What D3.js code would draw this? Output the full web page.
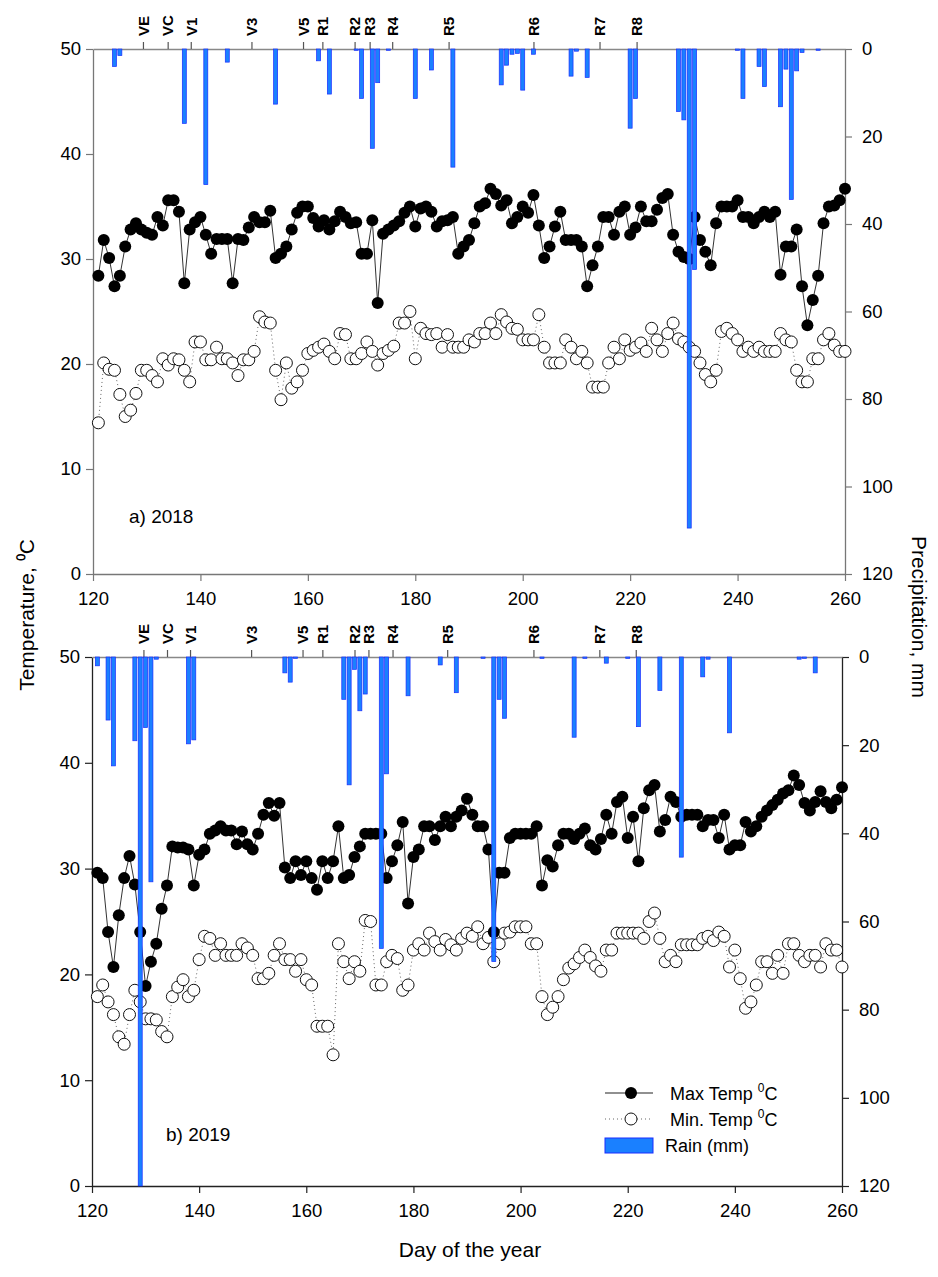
<!DOCTYPE html>
<html>
<head>
<meta charset="utf-8">
<script src="https://cdn.jsdelivr.net/npm/d3@7"></script>
<style>
body { margin: 0; background: #fff; }
svg text { font-family: "Liberation Sans", Arial, sans-serif; }
</style>
</head>
<body>
<div id="chart"></div>
<script>
// daily values, day of year 121..260
var days = d3.range(121, 261);

var max2018 = [
  28.4, 31.8, 30.1, 27.4, 28.4, 31.2, 32.8, 33.4, 32.8, 32.5,
  32.3, 34.0, 33.2, 35.6, 35.6, 34.5, 27.7, 32.8, 33.5, 34.0,
  32.3, 30.5, 31.9, 31.9, 31.9, 27.7, 31.9, 31.8, 33.0, 34.0,
  33.5, 33.5, 34.6, 30.1, 30.5, 31.2, 32.8, 34.4, 35.0, 35.0,
  33.9, 33.1, 33.7, 32.8, 33.6, 34.5, 34.0, 33.4, 33.5, 30.5,
  30.5, 33.7, 25.8, 32.4, 32.8, 33.2, 33.6, 34.4, 35.0, 33.1,
  34.8, 35.0, 34.5, 33.1, 33.6, 33.7, 34.0, 30.5, 31.2, 31.8,
  33.4, 35.0, 35.3, 36.7, 36.2, 35.1, 35.6, 33.4, 34.0, 35.0,
  34.4, 36.1, 33.2, 30.1, 31.2, 33.1, 34.5, 31.8, 31.8, 31.8,
  31.2, 27.4, 29.4, 31.2, 34.0, 34.0, 32.3, 34.5, 35.0, 32.3,
  33.0, 35.0, 33.6, 33.6, 34.7, 35.8, 36.2, 32.3, 30.7, 30.2,
  30.0, 34.0, 31.8, 30.7, 29.4, 33.4, 35.0, 35.0, 35.0, 35.6,
  34.0, 34.0, 33.4, 34.0, 34.5, 34.0, 34.5, 28.5, 31.2, 31.2,
  32.8, 27.4, 23.7, 26.1, 28.4, 33.4, 35.0, 35.1, 35.6, 36.7
];
var min2018 = [
  14.4, 20.1, 19.5, 19.4, 17.1, 15.0, 15.6, 17.2, 19.4, 19.4,
  18.9, 18.3, 20.5, 19.9, 20.5, 20.4, 19.4, 18.3, 22.1, 22.1,
  20.4, 20.4, 21.6, 20.5, 20.5, 20.1, 18.9, 20.4, 20.4, 21.2,
  24.5, 24.0, 23.9, 19.4, 16.6, 20.1, 17.7, 18.3, 19.4, 21.0,
  21.3, 21.6, 21.9, 21.2, 20.5, 22.9, 22.8, 20.5, 20.5, 21.0,
  22.1, 21.2, 19.9, 21.0, 21.3, 21.7, 23.9, 23.9, 25.0, 20.5,
  23.4, 22.9, 22.8, 22.9, 21.6, 22.8, 21.6, 21.6, 21.6, 22.3,
  22.1, 22.9, 22.9, 23.9, 22.9, 24.7, 24.0, 23.4, 23.3, 22.3,
  22.3, 22.3, 24.7, 21.6, 20.1, 20.1, 20.1, 22.3, 21.6, 20.5,
  21.2, 20.1, 17.8, 17.8, 17.8, 20.1, 21.6, 20.5, 22.3, 21.3,
  21.6, 22.0, 21.2, 23.4, 22.3, 21.2, 22.9, 23.9, 22.4, 22.1,
  21.6, 21.2, 20.1, 19.0, 18.3, 19.4, 23.1, 23.4, 22.9, 22.3,
  21.2, 21.6, 21.2, 21.6, 21.2, 21.2, 21.2, 22.9, 22.3, 22.1,
  19.4, 18.3, 18.3, 20.5, 20.5, 22.3, 22.9, 21.8, 21.2, 21.2
];
var max2019 = [
  29.6, 29.1, 24.0, 20.7, 25.6, 29.1, 31.2, 28.5, 24.0, 18.9,
  21.2, 22.9, 26.2, 28.4, 32.1, 32.0, 32.0, 31.8, 28.4, 31.3,
  31.8, 33.3, 33.6, 34.0, 33.6, 33.6, 32.3, 33.5, 32.3, 31.8,
  33.3, 35.1, 36.2, 35.0, 36.2, 30.1, 29.1, 30.7, 29.4, 30.7,
  29.1, 28.0, 30.7, 29.1, 30.7, 34.0, 29.1, 29.4, 31.1, 32.1,
  33.3, 33.3, 33.3, 33.3, 29.1, 30.7, 32.2, 34.4, 26.7, 31.1,
  31.8, 34.0, 34.0, 32.7, 34.0, 34.9, 34.0, 34.9, 35.5, 36.6,
  35.1, 34.0, 34.0, 31.8, 24.0, 29.6, 29.6, 32.9, 33.3, 33.3,
  33.3, 33.3, 34.0, 28.4, 30.8, 30.2, 32.2, 33.3, 33.3, 32.8,
  33.3, 33.8, 32.2, 31.8, 32.8, 35.1, 33.3, 36.3, 36.8, 32.9,
  34.9, 30.7, 35.7, 37.4, 37.9, 33.5, 34.6, 36.8, 36.3, 34.9,
  35.1, 35.1, 35.1, 34.0, 34.6, 34.6, 32.9, 35.1, 31.8, 32.2,
  32.2, 34.4, 33.5, 34.0, 34.9, 35.5, 36.0, 36.5, 37.1, 37.4,
  38.8, 37.9, 36.2, 35.5, 36.3, 37.3, 36.3, 35.7, 36.5, 37.7
];
var min2019 = [
  17.9, 19.0, 17.4, 16.2, 14.1, 13.4, 16.2, 18.5, 17.4, 15.8,
  15.8, 15.7, 14.6, 14.1, 17.9, 18.8, 19.5, 17.9, 18.5, 21.4,
  23.6, 23.4, 21.8, 22.9, 21.8, 21.8, 21.8, 22.9, 22.5, 21.8,
  19.6, 19.6, 20.1, 21.8, 22.9, 21.4, 21.4, 20.3, 21.4, 19.5,
  19.0, 15.1, 15.1, 15.1, 12.4, 22.9, 21.2, 19.6, 21.2, 20.3,
  25.1, 25.0, 19.0, 19.0, 21.2, 21.8, 21.5, 18.5, 19.0, 22.3,
  22.9, 22.3, 23.9, 23.1, 22.3, 23.3, 22.8, 22.3, 23.4, 23.9,
  23.6, 24.5, 22.9, 23.5, 21.2, 22.9, 23.9, 24.0, 24.5, 24.5,
  24.5, 22.9, 22.9, 17.9, 16.2, 16.9, 17.9, 19.5, 20.6, 21.0,
  21.6, 22.3, 21.6, 20.8, 20.3, 22.3, 22.3, 23.9, 23.9, 23.9,
  23.9, 23.9, 23.4, 25.0, 25.8, 23.4, 21.2, 21.8, 21.2, 22.8,
  22.8, 22.8, 22.8, 23.4, 23.6, 23.2, 24.0, 23.6, 20.7, 22.3,
  19.6, 16.8, 17.4, 19.0, 21.2, 21.2, 20.1, 21.8, 20.1, 22.9,
  22.9, 21.8, 21.2, 21.8, 21.8, 20.7, 22.9, 22.3, 22.3, 20.7
];

// rain events (day, mm)
var rainDays2018 = [124, 125, 137, 141, 145, 154, 162, 164, 169, 170, 172, 173, 175, 180, 183, 187,
  196, 197, 198, 199, 200, 202, 209, 210, 212, 220, 221, 229, 230, 231, 232, 240, 241, 244, 245,
  248, 249, 250, 251, 252, 255];
var rainMm2018 = [4, 1.5, 17, 31, 3, 12.6, 2.7, 10.3, 0.3, 11.3, 22.7, 7.7, 0.3, 11.3, 4.8, 27,
  8.2, 3.7, 1.2, 1, 9.4, 1.2, 6.2, 0.5, 6.5, 18.1, 11.3, 14.3, 16.2, 109.5, 50.4, 0.3, 11.3, 4, 8.6,
  13.2, 4.6, 34.4, 5, 0.8, 0.3];
var rainDays2019 = [121, 123, 124, 128, 129, 130, 131, 132, 138, 139, 156, 157, 158, 167, 168, 169,
  170, 171, 174, 175, 179, 185, 188, 193, 195, 196, 197, 204, 210, 212, 216, 220, 222, 226, 230,
  234, 235, 239, 252, 253, 255];
var rainMm2019 = [2, 14.3, 24.7, 19, 120, 16, 51, 0.5, 19.7, 18.8, 3.6, 5.7, 0.3, 9.6, 29, 2.8,
  12.2, 8.4, 66.1, 26.5, 8.8, 1.8, 8.1, 0.3, 69.1, 9.6, 13.9, 0.3, 18.2, 0.3, 1.4, 0.3, 15.8, 7.6, 45.4,
  4.5, 0.5, 17.2, 0.5, 0.3, 3.6];

// growth stages on the top axis
var stageNames = ["VE", "VC", "V1", "V3", "V5", "R1", "R2", "R3", "R4", "R5", "R6", "R7", "R8"];
var stageDays2018 = [129.3, 133.9, 138.2, 149.5, 159.1, 162.7, 168.7, 171.5, 175.7, 186.2, 202, 214.3, 221.2];
var stageDays2019 = [129.6, 134, 138.3, 149.7, 159.3, 163, 169, 171.6, 176.1, 186.3, 202.4, 214.7, 221.5];

var dayTicks = [120, 140, 160, 180, 200, 220, 240, 260];
var tempTicks = [0, 10, 20, 30, 40, 50];
var rainTicks = [0, 20, 40, 60, 80, 100, 120];

var width = 938, height = 1277;
var svg = d3.select("#chart").append("svg")
  .attr("width", width)
  .attr("height", height);

var panels = [
  {label: "a) 2018", top: 49, bottom: 574, left: 93, right: 845, maxT: max2018, minT: min2018,
   rainDays: rainDays2018, rainMm: rainMm2018, stages: stageDays2018, lx: 129, ly: 523, axis: "#777"},
  {label: "b) 2019", top: 657, bottom: 1186, left: 92, right: 842, maxT: max2019, minT: min2019,
   rainDays: rainDays2019, rainMm: rainMm2019, stages: stageDays2019, lx: 166, ly: 1141, axis: "#222"}
];

function styleAxis(sel, color) {
  sel.select(".domain").attr("stroke", color).attr("stroke-width", 1.3);
  sel.selectAll(".tick line").attr("stroke", color).attr("stroke-width", 1.2);
  sel.selectAll(".tick text").attr("fill", "#000").style("font-size", "18.5px");
}

panels.forEach(function (p) {
  var x = d3.scaleLinear().domain([120, 260]).range([p.left, p.right]);
  var yT = d3.scaleLinear().domain([0, 50]).range([p.bottom, p.top]);
  var yR = d3.scaleLinear().domain([0, 120]).range([p.top, p.bottom]);
  var g = svg.append("g");

  var xa = g.append("g").attr("transform", "translate(0," + p.bottom + ")")
    .call(d3.axisBottom(x).tickValues(dayTicks).tickSize(7).tickSizeOuter(0).tickPadding(11));
  styleAxis(xa, p.axis);

  var ya = g.append("g").attr("transform", "translate(" + p.left + ",0)")
    .call(d3.axisLeft(yT).tickValues(tempTicks).tickSize(7).tickSizeOuter(0).tickPadding(5));
  styleAxis(ya, p.axis);

  var ra = g.append("g").attr("transform", "translate(" + p.right + ",0)")
    .call(d3.axisRight(yR).tickValues(rainTicks).tickSize(7).tickSizeOuter(0).tickPadding(10));
  styleAxis(ra, p.axis);

  var sa = g.append("g").attr("transform", "translate(0," + p.top + ")")
    .call(d3.axisTop(x).tickValues(p.stages).tickSize(7).tickSizeOuter(0)
      .tickFormat(function (d, i) { return stageNames[i]; }));
  sa.select(".domain").attr("stroke", "#888").attr("stroke-width", 1.3);
  sa.selectAll(".tick line").attr("stroke", "#555").attr("stroke-width", 1.2);
  sa.selectAll(".tick text")
    .attr("transform", "rotate(-90)")
    .attr("x", 13).attr("y", 0).attr("dy", "0.35em")
    .style("text-anchor", "start")
    .style("font-weight", "bold")
    .style("font-size", "15px")
    .attr("fill", "#000");

  var maxPts = days.map(function (d, i) { return [d, p.maxT[i]]; });
  var minPts = days.map(function (d, i) { return [d, p.minT[i]]; });
  var line = d3.line()
    .x(function (d) { return x(d[0]); })
    .y(function (d) { return yT(d[1]); });

  g.append("path").datum(minPts).attr("d", line)
    .attr("fill", "none").attr("stroke", "#666").attr("stroke-width", 1)
    .attr("stroke-dasharray", "1,3");
  g.selectAll("circle.mn").data(minPts).join("circle").attr("class", "mn")
    .attr("cx", function (d) { return x(d[0]); })
    .attr("cy", function (d) { return yT(d[1]); })
    .attr("r", 6)
    .attr("fill", "#fff").attr("stroke", "#111").attr("stroke-width", 1);

  g.append("path").datum(maxPts).attr("d", line)
    .attr("fill", "none").attr("stroke", "#333").attr("stroke-width", 1);
  g.selectAll("circle.mx").data(maxPts).join("circle").attr("class", "mx")
    .attr("cx", function (d) { return x(d[0]); })
    .attr("cy", function (d) { return yT(d[1]); })
    .attr("r", 6)
    .attr("fill", "#000");

  var rain = p.rainDays.map(function (d, i) { return [d, p.rainMm[i]]; });
  g.selectAll("rect.rain").data(rain).join("rect").attr("class", "rain")
    .attr("x", function (d) { return x(d[0]) - 2; })
    .attr("width", 4)
    .attr("y", yR(0))
    .attr("height", function (d) { return yR(d[1]) - yR(0); })
    .attr("fill", "#1a80ff")
    .attr("stroke", "#1a2cff")
    .attr("stroke-width", 0.7);

  g.append("text").attr("x", p.lx).attr("y", p.ly)
    .style("font-size", "19px").text(p.label);
});

// axis titles
svg.append("text")
  .attr("transform", "translate(34,615) rotate(-90)")
  .style("text-anchor", "middle").style("font-size", "21px")
  .text("Temperature, \u2070C");
svg.append("text")
  .attr("transform", "translate(912,617) rotate(90)")
  .style("text-anchor", "middle").style("font-size", "21px")
  .text("Precipitation, mm");
svg.append("text")
  .attr("x", 470).attr("y", 1257)
  .style("text-anchor", "middle").style("font-size", "21px")
  .text("Day of the year");

// legend
var lg = svg.append("g").attr("transform", "translate(605,0)");
lg.append("line").attr("x1", 0).attr("x2", 48).attr("y1", 1093).attr("y2", 1093)
  .attr("stroke", "#222").attr("stroke-width", 1.2);
lg.append("circle").attr("cx", 26).attr("cy", 1093).attr("r", 6).attr("fill", "#000");
lg.append("line").attr("x1", 0).attr("x2", 48).attr("y1", 1119).attr("y2", 1119)
  .attr("stroke", "#666").attr("stroke-width", 1).attr("stroke-dasharray", "1,3");
lg.append("circle").attr("cx", 26).attr("cy", 1119).attr("r", 6)
  .attr("fill", "#fff").attr("stroke", "#111");
lg.append("rect").attr("x", 0).attr("y", 1138).attr("width", 48).attr("height", 15)
  .attr("fill", "#1a80ff").attr("stroke", "#1a2cff").attr("stroke-width", 1);

var legendRows = [
  {y: 1100, x: 65, main: "Max Temp ", sup: "0", tail: "C"},
  {y: 1126, x: 65, main: "Min. Temp ", sup: "0", tail: "C"},
  {y: 1152, x: 60, main: "Rain (mm)", sup: "", tail: ""}
];
legendRows.forEach(function (r) {
  var t = lg.append("text").attr("x", r.x).attr("y", r.y).style("font-size", "18px");
  t.append("tspan").text(r.main);
  if (r.sup) {
    t.append("tspan").attr("dy", -8).style("font-size", "12px").text(r.sup);
    t.append("tspan").attr("dy", 8).text(r.tail);
  }
});
</script>
</body>
</html>
